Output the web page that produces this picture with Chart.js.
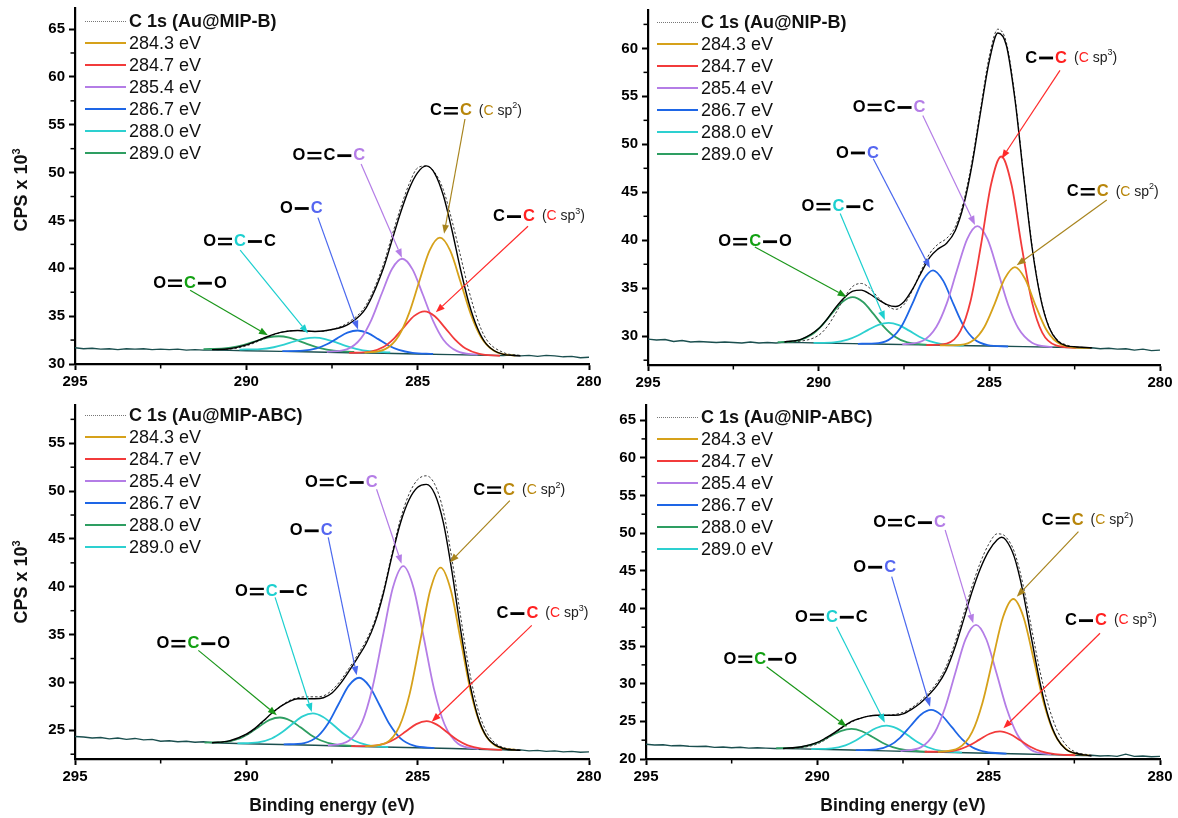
<!DOCTYPE html>
<html><head><meta charset="utf-8">
<script src="https://cdn.jsdelivr.net/npm/chart.js"></script>
<style>
html,body{margin:0;padding:0;background:#fff;}
body{width:1178px;height:818px;position:relative;overflow:hidden;font-family:"Liberation Sans",Arial,Helvetica,sans-serif;color:#111;}
canvas{position:absolute;}
.ytitle{position:absolute;font-weight:bold;font-size:18px;line-height:20px;white-space:nowrap;transform:translate(-50%,-50%) rotate(-90deg);}
.ytitle sup{font-size:11px;line-height:0;vertical-align:7px;}
.xtitle{position:absolute;font-weight:bold;font-size:17.5px;line-height:20px;white-space:nowrap;transform:translateX(-50%);}
.legend{position:absolute;font-size:18px;}
.legend .row{display:flex;align-items:center;height:22px;white-space:nowrap;}
.legend .smp{display:inline-block;width:41px;height:0;margin-right:3px;}
</style></head><body>
<canvas id="c0" width="612" height="400" style="left:0;top:0"></canvas>
<canvas id="c1" width="578" height="400" style="left:600px;top:0"></canvas>
<canvas id="c2" width="612" height="418" style="left:0;top:400px"></canvas>
<canvas id="c3" width="578" height="418" style="left:600px;top:400px"></canvas>
<div class="ytitle" style="left:21px;top:190px">CPS x 10<sup>3</sup></div>
<div class="ytitle" style="left:21px;top:582px">CPS x 10<sup>3</sup></div>
<div class="xtitle" style="left:332px;top:795px">Binding energy (eV)</div>
<div class="xtitle" style="left:903px;top:795px">Binding energy (eV)</div>
<script>
// ---------------- DATA ----------------
const xTicks = [295, 290, 285, 280];
const xMinorTicks = [292.5, 287.5, 282.5];
const tlYTicks = [30, 35, 40, 45, 50, 55, 60, 65];
const tlYMinor = [32.5, 37.5, 42.5, 47.5, 52.5, 57.5, 62.5];
const trYTicks = [30, 35, 40, 45, 50, 55, 60];
const trYMinor = [27.5, 32.5, 37.5, 42.5, 47.5, 52.5, 57.5, 62.5];
const blYTicks = [25, 30, 35, 40, 45, 50, 55];
const blYMinor = [22.5, 27.5, 32.5, 37.5, 42.5, 47.5, 52.5, 57.5];
const brYTicks = [20, 25, 30, 35, 40, 45, 50, 55, 60, 65];
const brYMinor = [22.5, 27.5, 32.5, 37.5, 42.5, 47.5, 52.5, 57.5, 62.5];

const compLabels = ['284.3 eV', '284.7 eV', '285.4 eV', '286.7 eV', '288.0 eV', '289.0 eV'];

// background / raw baseline (eV, CPS x 10^3)
const bgX = [295, 294.75, 294.5, 294.25, 294, 293.75, 293.5, 293.25, 293, 292.75, 292.5, 292.25, 292, 291.75, 291.5, 291.25, 291, 290.5, 290, 289, 288, 287, 286, 285, 284, 283, 282.5, 282.25, 282, 281.75, 281.5, 281.25, 281, 280.75, 280.5, 280.25, 280];
const tlBg = [31.7, 31.6, 31.65, 31.55, 31.6, 31.5, 31.6, 31.55, 31.6, 31.5, 31.55, 31.5, 31.55, 31.45, 31.5, 31.45, 31.45, 31.42, 31.38, 31.32, 31.25, 31.18, 31.12, 31.05, 30.98, 30.92, 30.88, 30.95, 30.85, 30.9, 30.8, 30.9, 30.85, 30.75, 30.8, 30.65, 30.7];
const trBg = [29.7, 29.6, 29.65, 29.45, 29.55, 29.4, 29.45, 29.4, 29.35, 29.4, 29.35, 29.3, 29.4, 29.3, 29.35, 29.3, 29.36, 29.33, 29.3, 29.23, 29.17, 29.1, 29.04, 28.98, 28.91, 28.85, 28.82, 28.75, 28.8, 28.7, 28.75, 28.65, 28.7, 28.55, 28.65, 28.5, 28.55];
const blBg = [24.35, 24.3, 24.2, 24.25, 24.1, 24.2, 24.05, 24.15, 24.0, 24.05, 23.85, 23.9, 23.8, 23.85, 23.75, 23.8, 23.7, 23.65, 23.6, 23.51, 23.43, 23.34, 23.26, 23.17, 23.09, 23.0, 22.96, 22.9, 22.95, 22.85, 22.9, 22.8, 22.85, 22.75, 22.8, 22.7, 22.75];
const brBg = [21.95, 21.85, 21.9, 21.75, 21.8, 21.7, 21.65, 21.7, 21.55, 21.6, 21.5, 21.55, 21.45, 21.5, 21.45, 21.4, 21.4, 21.35, 21.29, 21.19, 21.08, 20.97, 20.87, 20.76, 20.66, 20.55, 20.5, 20.45, 20.5, 20.4, 20.45, 20.35, 20.65, 20.35, 20.4, 20.3, 20.35];

// measured spectra (dotted) and fitted envelopes (solid black)
const tlEnvX = [291, 290.5, 290, 289.5, 289, 288.5, 288, 287.5, 287, 286.5, 286, 285.75, 285.5, 285.25, 285, 284.75, 284.5, 284.25, 284, 283.75, 283.5, 283.25, 283, 282.5, 282];
const tlEnv = [31.5, 31.6, 32.0, 32.7, 33.3, 33.5, 33.4, 33.6, 34.2, 35.9, 40.0, 42.9, 45.8, 48.3, 50.0, 50.7, 49.9, 47.6, 44.0, 39.9, 36.3, 33.7, 32.1, 31.0, 30.85];
const tlRaw = [31.5, 31.55, 31.9, 32.6, 33.3, 33.5, 33.4, 33.6, 34.4, 36.2, 40.4, 43.4, 46.3, 48.8, 50.5, 50.7, 50.0, 48.2, 45.0, 41.3, 37.6, 34.6, 32.6, 31.2, 30.9];

const envX = [291, 290.5, 290, 289.75, 289.5, 289.25, 289, 288.75, 288.5, 288.25, 288, 287.75, 287.5, 287.25, 287, 286.75, 286.5, 286.25, 286, 285.75, 285.5, 285.25, 285, 284.75, 284.5, 284.25, 284, 283.75, 283.5, 283.25, 283, 282.75, 282.5, 282];
const trEnv = [29.4, 29.7, 30.8, 31.8, 33.0, 34.0, 34.7, 34.8, 34.4, 33.8, 33.3, 33.1, 33.6, 34.9, 36.6, 38.2, 39.1, 39.7, 41.0, 43.7, 48.0, 53.5, 58.7, 61.6, 60.3, 54.7, 46.8, 39.3, 34.0, 30.9, 29.5, 29.0, 28.9, 28.8];
const trRaw = [29.4, 29.5, 30.1, 31.0, 32.4, 34.0, 35.2, 35.5, 35.0, 34.0, 33.2, 32.8, 33.3, 34.8, 36.8, 38.6, 39.6, 40.2, 41.4, 44.1, 48.4, 53.9, 59.2, 62.0, 60.6, 55.0, 47.0, 39.5, 34.1, 31.0, 29.6, 29.1, 28.9, 28.8];
const blEnv = [23.7, 23.9, 24.6, 25.2, 26.0, 26.8, 27.5, 28.0, 28.3, 28.3, 28.3, 28.4, 28.9, 29.9, 31.2, 32.6, 34.1, 36.2, 39.3, 43.2, 46.7, 49.1, 50.4, 50.7, 49.7, 46.7, 41.6, 35.6, 30.3, 26.5, 24.4, 23.5, 23.1, 22.9];
const blRaw = [23.7, 23.85, 24.5, 25.1, 25.9, 26.8, 27.5, 28.1, 28.4, 28.5, 28.5, 28.6, 29.2, 30.2, 31.5, 32.9, 34.4, 36.5, 39.6, 43.5, 47.1, 49.7, 51.2, 51.6, 50.7, 47.9, 42.9, 37.0, 31.4, 27.3, 24.9, 23.7, 23.2, 22.95];
const brEnvX = [291, 290.5, 290, 289.75, 289.5, 289.25, 289, 288.75, 288.5, 288.25, 288, 287.75, 287.5, 287.25, 287, 286.75, 286.5, 286.25, 286, 285.75, 285.5, 285.25, 285, 284.75, 284.625, 284.5, 284.25, 284, 283.75, 283.5, 283.25, 283, 282.75, 282.5, 282];
const brEnv = [21.4, 21.6, 22.2, 22.8, 23.5, 24.3, 25.0, 25.4, 25.7, 25.8, 25.8, 25.8, 26.0, 26.6, 27.4, 28.5, 29.8, 31.7, 34.6, 38.2, 42.0, 45.2, 47.6, 49.1, 49.45, 49.1, 46.8, 42.2, 36.0, 30.1, 25.5, 22.7, 21.3, 20.8, 20.4];
const brRaw = [21.4, 21.5, 22.0, 22.6, 23.4, 24.2, 24.9, 25.4, 25.7, 25.8, 25.8, 25.9, 26.2, 26.8, 27.7, 28.8, 30.2, 32.2, 35.2, 38.9, 42.7, 46.0, 48.5, 49.9, 49.85, 49.5, 47.5, 43.2, 37.4, 31.6, 27.0, 23.8, 21.9, 21.0, 20.5];

// fitted components, top-left (Au@MIP-B)
const tlAuX = [286.55, 285.95, 285.55, 285.25, 284.95, 284.65, 284.35, 284.05, 283.75, 283.45, 283.15, 282.75, 282.15];
const tlAuY = [31.17, 31.55, 32.96, 35.32, 38.68, 41.88, 43.2, 41.84, 38.6, 35.2, 32.8, 31.33, 30.87];
const tlRdX = [287.0, 286.4, 286.0, 285.7, 285.4, 285.1, 284.8, 284.5, 284.2, 283.9, 283.6, 283.2, 282.6];
const tlRdY = [31.16, 31.27, 31.77, 32.63, 33.86, 35.03, 35.5, 34.99, 33.78, 32.51, 31.61, 31.05, 30.86];
const tlViX = [287.65, 287.05, 286.65, 286.35, 286.05, 285.75, 285.45, 285.15, 284.85, 284.55, 284.25, 283.85, 283.25];
const tlViY = [31.27, 31.56, 32.7, 34.62, 37.34, 39.93, 41.0, 39.89, 37.26, 34.5, 32.54, 31.34, 30.97];
const tlBlX = [288.95, 288.35, 287.95, 287.65, 287.35, 287.05, 286.75, 286.45, 286.15, 285.85, 285.55, 285.15, 284.55];
const tlBlY = [31.35, 31.39, 31.63, 32.06, 32.68, 33.27, 33.5, 33.23, 32.6, 31.94, 31.47, 31.17, 31.05];
const tlCyX = [290.2, 289.6, 289.2, 288.9, 288.6, 288.3, 288.0, 287.7, 287.4, 287.1, 286.8, 286.4, 285.8];
const tlCyY = [31.51, 31.56, 31.75, 32.02, 32.36, 32.65, 32.75, 32.61, 32.28, 31.9, 31.59, 31.34, 31.21];
const tlGnX = [291.25, 290.65, 290.25, 289.95, 289.65, 289.35, 289.05, 288.75, 288.45, 288.15, 287.85, 287.45, 286.85];
const tlGnY = [31.56, 31.62, 31.83, 32.12, 32.48, 32.79, 32.9, 32.75, 32.4, 32.0, 31.67, 31.4, 31.26];

// top-right (Au@NIP-B)
const trAuX = [286.45, 285.85, 285.45, 285.15, 284.85, 284.55, 284.25, 283.95, 283.65, 283.35, 283.05, 282.65, 282.05];
const trAuY = [29.05, 29.1, 29.63, 30.93, 33.32, 36.0, 37.21, 35.96, 33.24, 30.81, 29.47, 28.9, 28.77];
const trRdX = [286.85, 286.25, 285.85, 285.55, 285.25, 284.95, 284.65, 284.35, 284.05, 283.75, 283.45, 283.05, 282.45];
const trRdY = [29.07, 29.24, 30.53, 33.67, 39.4, 45.82, 48.73, 45.78, 39.32, 33.55, 30.37, 29.04, 28.79];
const trViX = [287.55, 286.95, 286.55, 286.25, 285.95, 285.65, 285.35, 285.05, 284.75, 284.45, 284.15, 283.75, 283.15];
const trViY = [29.14, 29.53, 30.99, 33.4, 36.85, 40.13, 41.48, 40.09, 36.77, 33.28, 30.83, 29.33, 28.86];
const trBlX = [288.85, 288.25, 287.85, 287.55, 287.25, 286.95, 286.65, 286.35, 286.05, 285.75, 285.45, 285.05, 284.45];
const trBlY = [29.21, 29.28, 29.87, 31.17, 33.42, 35.81, 36.87, 35.77, 33.34, 31.05, 29.71, 29.08, 28.93];
const trCyX = [290.15, 289.55, 289.15, 288.85, 288.55, 288.25, 287.95, 287.65, 287.35, 287.05, 286.75, 286.35, 285.75];
const trCyY = [29.3, 29.36, 29.64, 30.07, 30.66, 31.19, 31.4, 31.15, 30.58, 29.95, 29.48, 29.16, 29.02];
const trGnX = [291.2, 290.6, 290.2, 289.9, 289.6, 289.3, 289.0, 288.7, 288.4, 288.1, 287.8, 287.4, 286.8];
const trGnY = [29.38, 29.55, 30.18, 31.14, 32.43, 33.6, 34.07, 33.56, 32.35, 31.02, 30.02, 29.35, 29.1];

// bottom-left (Au@MIP-ABC)
const blAuX = [286.53, 285.93, 285.53, 285.23, 284.93, 284.63, 284.33, 284.03, 283.73, 283.43, 283.13, 282.73, 282.13];
const blAuY = [23.32, 23.67, 25.43, 28.86, 34.24, 39.68, 42.01, 39.62, 34.14, 28.7, 25.23, 23.39, 22.94];
const blRdX = [286.94, 286.34, 285.94, 285.64, 285.34, 285.04, 284.74, 284.44, 284.14, 283.84, 283.54, 283.14, 282.54];
const blRdY = [23.34, 23.37, 23.63, 24.14, 24.9, 25.65, 25.95, 25.59, 24.8, 23.98, 23.43, 23.09, 22.96];
const blViX = [287.62, 287.02, 286.62, 286.32, 286.02, 285.72, 285.42, 285.12, 284.82, 284.52, 284.22, 283.82, 283.22];
const blViY = [23.41, 23.88, 25.86, 29.44, 34.75, 39.94, 42.15, 39.88, 34.65, 29.28, 25.66, 23.6, 23.03];
const blBlX = [288.91, 288.31, 287.91, 287.61, 287.31, 287.01, 286.71, 286.41, 286.11, 285.81, 285.51, 285.11, 284.51];
const blBlY = [23.52, 23.67, 24.39, 25.73, 27.72, 29.67, 30.49, 29.61, 27.62, 25.57, 24.19, 23.39, 23.14];
const blCyX = [290.26, 289.66, 289.26, 288.96, 288.66, 288.36, 288.06, 287.76, 287.46, 287.16, 286.86, 286.46, 285.86];
const blCyY = [23.63, 23.73, 24.14, 24.79, 25.65, 26.45, 26.76, 26.39, 25.55, 24.63, 23.94, 23.45, 23.25];
const blGnX = [291.22, 290.62, 290.22, 289.92, 289.62, 289.32, 289.02, 288.72, 288.42, 288.12, 287.82, 287.42, 286.82];
const blGnY = [23.72, 23.8, 24.13, 24.68, 25.41, 26.09, 26.34, 26.03, 25.31, 24.52, 23.93, 23.52, 23.34];

// bottom-right (Au@NIP-ABC)
const brAuX = [286.48, 285.88, 285.48, 285.18, 284.88, 284.58, 284.28, 283.98, 283.68, 283.38, 283.08, 282.68, 282.08];
const brAuY = [20.94, 21.45, 23.59, 27.47, 33.22, 38.85, 41.24, 38.79, 33.1, 27.27, 23.33, 21.11, 20.48];
const brRdX = [286.87, 286.27, 285.87, 285.57, 285.27, 284.97, 284.67, 284.37, 284.07, 283.77, 283.47, 283.07, 282.47];
const brRdY = [20.96, 20.98, 21.26, 21.79, 22.57, 23.35, 23.67, 23.29, 22.45, 21.59, 21.0, 20.64, 20.5];
const brViX = [287.57, 286.97, 286.57, 286.27, 285.97, 285.67, 285.37, 285.07, 284.77, 284.47, 284.17, 283.77, 283.17];
const brViY = [21.06, 21.58, 23.55, 26.83, 31.5, 35.96, 37.8, 35.9, 31.38, 26.63, 23.29, 21.24, 20.6];
const brBlX = [288.88, 288.28, 287.88, 287.58, 287.28, 286.98, 286.68, 286.38, 286.08, 285.78, 285.48, 285.08, 284.48];
const brBlY = [21.18, 21.27, 21.82, 22.85, 24.38, 25.88, 26.51, 25.82, 24.26, 22.65, 21.56, 20.93, 20.72];
const brCyX = [290.18, 289.58, 289.18, 288.88, 288.58, 288.28, 287.98, 287.68, 287.38, 287.08, 286.78, 286.38, 285.78];
const brCyY = [21.32, 21.41, 21.82, 22.46, 23.33, 24.12, 24.43, 24.06, 23.21, 22.26, 21.56, 21.07, 20.86];
const brGnX = [291.2, 290.6, 290.2, 289.9, 289.6, 289.3, 289.0, 288.7, 288.4, 288.1, 287.8, 287.4, 286.8];
const brGnY = [21.43, 21.5, 21.83, 22.36, 23.08, 23.74, 23.99, 23.68, 22.96, 22.16, 21.57, 21.16, 20.97];

// ---------------- STYLE ----------------
const FONT = '"Liberation Sans", Arial, Helvetica, sans-serif';
const COL = {au:'#D6A11A', rd:'#F23B3B', vi:'#B47DE6', bl:'#1E66E6', cy:'#2DD0D0', gn:'#2E9E62', bg:'#1B4F4F'};
const NOTE = {g:'#12A012', c:'#1CCFCF', b:'#5566F0', v:'#B47DE6', y:'#B8860B', r:'#FF2020', k:'#000'};
const ARROW = {g:'#1A961A', c:'#1CCFCF', b:'#4A68EE', v:'#B47DE6', y:'#A8841E', r:'#FF2A2A'};

// annotations (label left/middle anchor and arrow in data coordinates)
const tlNotes = [
  {at:[292.72,38.44], parts:['O','=','C:g','-','O'], from:[291.64,37.7], to:[289.37,33.0], col:'g'},
  {at:[291.26,42.8], parts:['O','=','C:c','-','C'], from:[290.18,41.9], to:[288.2,33.2], col:'c'},
  {at:[289.02,46.25], parts:['O','-','C:b'], from:[287.91,45.3], to:[286.74,33.6], col:'b'},
  {at:[288.65,51.77], parts:['O','=','C','-','C:v'], from:[286.65,50.9], to:[285.46,41.1], col:'v'},
  {at:[284.64,56.46], parts:['C','=','C:y','sp:y:2'], from:[283.62,55.6], to:[284.23,43.6], col:'y'},
  {at:[282.8,45.4], parts:['C','-','C:r','sp:r:3'], from:[281.78,44.4], to:[284.47,35.4], col:'r'}
];
const trNotes = [
  {at:[292.94,39.85], parts:['O','=','C:g','-','O'], from:[291.87,39.3], to:[289.18,34.1], col:'g'},
  {at:[290.5,43.5], parts:['O','=','C:c','-','C'], from:[289.37,42.8], to:[288.06,31.7], col:'c'},
  {at:[289.49,49.1], parts:['O','-','C:b'], from:[288.4,48.5], to:[286.74,37.1], col:'b'},
  {at:[289.0,53.84], parts:['O','=','C','-','C:v'], from:[286.95,53.0], to:[285.42,41.6], col:'v'},
  {at:[283.95,59.0], parts:['C','-','C:r','sp:r:3'], from:[282.93,57.7], to:[284.64,48.5], col:'r'},
  {at:[282.73,45.05], parts:['C','=','C:y','sp:y:2'], from:[281.56,44.2], to:[284.2,37.4], col:'y'}
];
const blNotes = [
  {at:[292.62,34.05], parts:['O','=','C:g','-','O'], from:[291.4,33.35], to:[289.11,26.58], col:'g'},
  {at:[290.33,39.5], parts:['O','=','C:c','-','C'], from:[289.16,38.9], to:[288.09,26.9], col:'c'},
  {at:[288.73,45.85], parts:['O','-','C:b'], from:[287.61,45.16], to:[286.78,30.75], col:'b'},
  {at:[288.29,50.9], parts:['O','=','C','-','C:v'], from:[286.2,50.2], to:[285.47,42.4], col:'v'},
  {at:[283.38,50.1], parts:['C','=','C:y','sp:y:2'], from:[282.31,49.0], to:[284.06,42.55], col:'y'},
  {at:[282.7,37.2], parts:['C','-','C:r','sp:r:3'], from:[281.67,35.96], to:[284.59,25.9], col:'r'}
];
const brNotes = [
  {at:[292.74,33.24], parts:['O','=','C:g','-','O'], from:[291.48,32.26], to:[289.14,24.29], col:'g'},
  {at:[290.65,38.82], parts:['O','=','C:c','-','C'], from:[289.44,37.57], to:[288.03,24.82], col:'c'},
  {at:[288.95,45.46], parts:['O','-','C:b'], from:[287.83,44.21], to:[286.71,26.95], col:'b'},
  {at:[288.37,51.38], parts:['O','=','C','-','C:v'], from:[286.27,50.41], to:[285.45,38.02], col:'v'},
  {at:[283.45,51.65], parts:['C','=','C:y','sp:y:2'], from:[282.38,50.19], to:[284.18,41.55], col:'y'},
  {at:[282.77,38.37], parts:['C','-','C:r','sp:r:3'], from:[281.75,36.69], to:[284.57,24.07], col:'r'}
];

const panels = [
  {id:'c0', title:'C 1s (Au@MIP-B)', yMin:30, yMax:67.2, yTicks:tlYTicks, yMinor:tlYMinor, pad:{top:8,right:23}, yW:75, xH:36,
   raw:[tlEnvX,tlRaw], env:[tlEnvX,tlEnv], bg:[bgX,tlBg], notes:tlNotes, legend:{left:85, top:10},
   comps:[[COL.au,tlAuX,tlAuY],[COL.rd,tlRdX,tlRdY],[COL.vi,tlViX,tlViY],[COL.bl,tlBlX,tlBlY],[COL.cy,tlCyX,tlCyY],[COL.gn,tlGnX,tlGnY]]},
  {id:'c1', title:'C 1s (Au@NIP-B)', yMin:27, yMax:64, yTicks:trYTicks, yMinor:trYMinor, pad:{top:10,right:18}, yW:48, xH:35,
   raw:[envX,trRaw], env:[envX,trEnv], bg:[bgX,trBg], notes:trNotes, legend:{left:657, top:11},
   comps:[[COL.au,trAuX,trAuY],[COL.rd,trRdX,trRdY],[COL.vi,trViX,trViY],[COL.bl,trBlX,trBlY],[COL.cy,trCyX,trCyY],[COL.gn,trGnX,trGnY]]},
  {id:'c2', title:'C 1s (Au@MIP-ABC)', yMin:22, yMax:59, yTicks:blYTicks, yMinor:blYMinor, pad:{top:5,right:23}, yW:75, xH:59,
   raw:[envX,blRaw], env:[envX,blEnv], bg:[bgX,blBg], notes:blNotes, legend:{left:85, top:404},
   comps:[[COL.au,blAuX,blAuY],[COL.rd,blRdX,blRdY],[COL.vi,blViX,blViY],[COL.bl,blBlX,blBlY],[COL.cy,blCyX,blCyY,COL.gn],[COL.gn,blGnX,blGnY,COL.cy]]},
  {id:'c3', title:'C 1s (Au@NIP-ABC)', yMin:20, yMax:67, yTicks:brYTicks, yMinor:brYMinor, pad:{top:5,right:18}, yW:46, xH:59,
   raw:[brEnvX,brRaw], env:[brEnvX,brEnv], bg:[bgX,brBg], notes:brNotes, legend:{left:657, top:406},
   comps:[[COL.au,brAuX,brAuY],[COL.rd,brRdX,brRdY],[COL.vi,brViX,brViY],[COL.bl,brBlX,brBlY],[COL.cy,brCyX,brCyY,COL.gn],[COL.gn,brGnX,brGnY,COL.cy]]}
];

// ---------------- DRAWING ----------------
const pts = (xs, ys) => xs.map((x, i) => ({x, y: ys[i]}));

function drawArrow(ctx, x1, y1, x2, y2, col) {
  const a = Math.atan2(y2 - y1, x2 - x1), L = 9, W = 3.4;
  const bx = x2 - L * Math.cos(a), by = y2 - L * Math.sin(a);
  ctx.strokeStyle = col; ctx.fillStyle = col; ctx.lineWidth = 1.2;
  ctx.beginPath(); ctx.moveTo(x1, y1); ctx.lineTo(bx, by); ctx.stroke();
  ctx.beginPath(); ctx.moveTo(x2, y2);
  ctx.lineTo(bx - W * Math.sin(a), by + W * Math.cos(a));
  ctx.lineTo(bx + W * Math.sin(a), by - W * Math.cos(a));
  ctx.closePath(); ctx.fill();
}

function drawLabel(ctx, x, y, parts) {
  ctx.textBaseline = 'middle'; ctx.textAlign = 'left';
  parts.forEach(p => {
    if (p === '=' || p === '-') {
      ctx.strokeStyle = '#000';
      const x0 = x + 2, x1 = x + 16;
      if (p === '=') {
        ctx.lineWidth = 2.2;
        [-2.7, 2.7].forEach(d => { ctx.beginPath(); ctx.moveTo(x0, y + d); ctx.lineTo(x1, y + d); ctx.stroke(); });
      } else {
        ctx.lineWidth = 2.8;
        ctx.beginPath(); ctx.moveTo(x0, y); ctx.lineTo(x1, y); ctx.stroke();
      }
      x += 18;
    } else if (p.startsWith('sp:')) {
      const [, c, sup] = p.split(':');
      x += 7;
      const seg = (t, col, size, dy) => {
        ctx.font = size + 'px ' + FONT; ctx.fillStyle = col;
        ctx.fillText(t, x, y + dy); x += ctx.measureText(t).width;
      };
      seg('(', '#222', 14, 0); seg('C', NOTE[c], 14, 0); seg(' sp', '#222', 14, 0);
      seg(sup, '#222', 9, -5); seg(')', '#222', 14, 0);
    } else {
      const [t, c] = p.split(':');
      ctx.font = 'bold 16.5px ' + FONT;
      ctx.fillStyle = NOTE[c || 'k'];
      ctx.fillText(t, x, y);
      x += ctx.measureText(t).width;
    }
  });
}

function notesPlugin(notes, yMinor) {
  return {
    id: 'notes',
    afterDraw(chart) {
      const ctx = chart.ctx, xs = chart.scales.x, ys = chart.scales.y, ca = chart.chartArea;
      ctx.save();
      ctx.strokeStyle = '#000'; ctx.lineWidth = 1.5;
      xMinorTicks.forEach(v => {
        const px = xs.getPixelForValue(v);
        ctx.beginPath(); ctx.moveTo(px, ca.bottom); ctx.lineTo(px, ca.bottom + 4.5); ctx.stroke();
      });
      yMinor.forEach(v => {
        const py = ys.getPixelForValue(v);
        ctx.beginPath(); ctx.moveTo(ca.left, py); ctx.lineTo(ca.left - 4.5, py); ctx.stroke();
      });
      notes.forEach(n => {
        drawArrow(ctx, xs.getPixelForValue(n.from[0]), ys.getPixelForValue(n.from[1]),
                  xs.getPixelForValue(n.to[0]), ys.getPixelForValue(n.to[1]), ARROW[n.col]);
      });
      notes.forEach(n => drawLabel(ctx, xs.getPixelForValue(n.at[0]), ys.getPixelForValue(n.at[1]), n.parts));
      ctx.restore();
    }
  };
}

function makeChart(p) {
  const datasets = [];
  datasets.push({label: p.title, data: pts(p.raw[0], p.raw[1]), borderColor: '#3a3a3a', borderWidth: 1,
                 borderDash: [2.5, 2], order: 1, inLegend: true, dashed: true});
  p.comps.forEach((c, i) => datasets.push({label: compLabels[i], data: pts(c[1], c[2]), borderColor: c[0],
                 borderWidth: 1.8, order: 2, inLegend: true, legendColor: c[3] || c[0]}));
  datasets.push({label: 'Envelope', data: pts(p.env[0], p.env[1]), borderColor: '#000', borderWidth: 1.4, order: 0});
  datasets.push({label: 'Background', data: pts(p.bg[0], p.bg[1]), borderColor: COL.bg, borderWidth: 1.4, order: 3,
                 cubicInterpolationMode: 'default', tension: 0});
  datasets.forEach(d => { d.pointRadius = 0; d.fill = false; if (!d.cubicInterpolationMode) d.cubicInterpolationMode = 'monotone'; });

  const tickFont = {family: FONT, size: 15, weight: 'bold'};
  const chart = new Chart(document.getElementById(p.id), {
    type: 'line',
    data: {datasets},
    options: {
      responsive: false, animation: false, devicePixelRatio: 1, events: [],
      layout: {padding: {top: p.pad.top, right: p.pad.right, left: 0, bottom: 0}},
      plugins: {legend: {display: false}, tooltip: {enabled: false}},
      scales: {
        x: {type: 'linear', reverse: true, min: 280, max: 295,
            afterBuildTicks: s => { s.ticks = xTicks.map(v => ({value: v})); },
            afterFit: s => { s.height = p.xH; s.paddingLeft = 0; s.paddingRight = 0; },
            ticks: {font: tickFont, color: '#000', padding: 3, maxRotation: 0, autoSkip: false},
            grid: {drawOnChartArea: false, drawTicks: true, tickLength: 6, tickWidth: 2, color: '#000'},
            border: {display: true, color: '#000', width: 2.2}},
        y: {type: 'linear', min: p.yMin, max: p.yMax,
            afterBuildTicks: s => { s.ticks = p.yTicks.map(v => ({value: v})); },
            afterFit: s => { s.width = p.yW; s.paddingTop = 0; s.paddingBottom = 0; },
            ticks: {font: tickFont, color: '#000', padding: 4, autoSkip: false},
            grid: {drawOnChartArea: false, drawTicks: true, tickLength: 6, tickWidth: 2, color: '#000'},
            border: {display: true, color: '#000', width: 2.2}}
      }
    },
    plugins: [notesPlugin(p.notes, p.yMinor)]
  });

  const lg = document.createElement('div');
  lg.className = 'legend';
  lg.style.left = p.legend.left + 'px'; lg.style.top = p.legend.top + 'px';
  chart.data.datasets.filter(d => d.inLegend).forEach((d, i) => {
    const row = document.createElement('div'); row.className = 'row';
    const s = document.createElement('span'); s.className = 'smp';
    s.style.borderTop = d.dashed ? '1.5px dotted #777' : ('2px solid ' + d.legendColor);
    const t = document.createElement('span'); t.textContent = d.label;
    if (i === 0) t.style.fontWeight = 'bold';
    row.append(s, t); lg.append(row);
  });
  document.body.append(lg);
}

panels.forEach(makeChart);
</script>
</body></html>
